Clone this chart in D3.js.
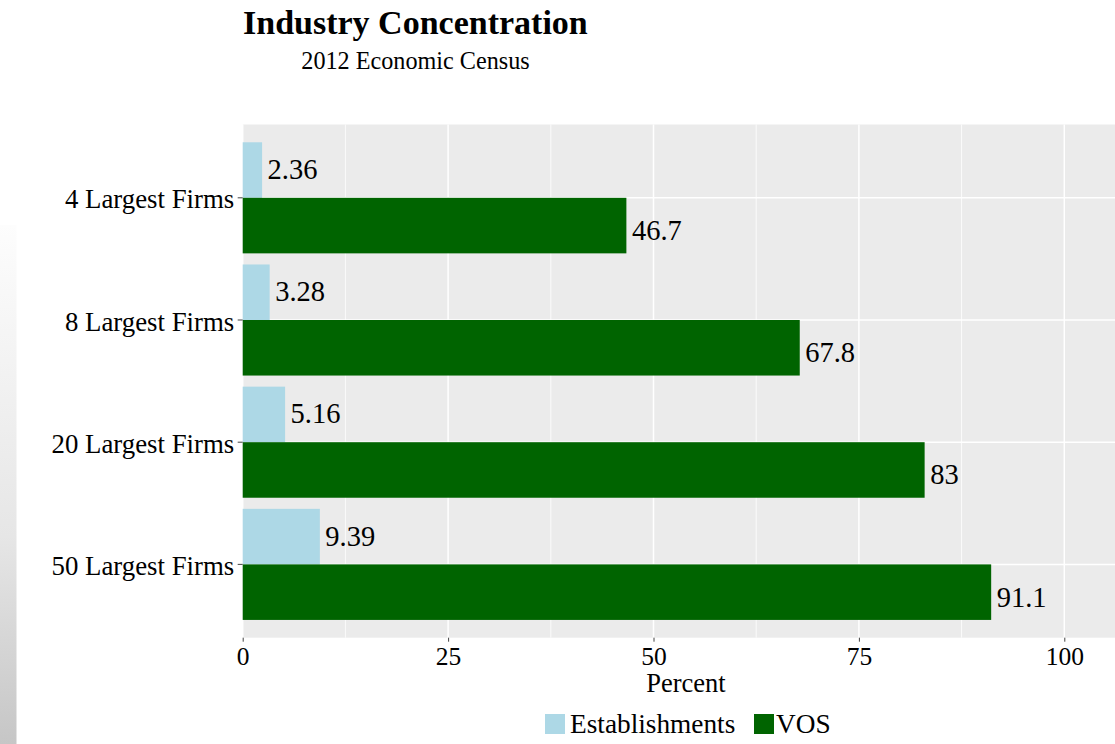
<!DOCTYPE html>
<html>
<head>
<meta charset="utf-8">
<script src="https://cdn.jsdelivr.net/npm/d3@7"></script>
<style>
  html, body { margin: 0; padding: 0; background: #fff; }
  svg { display: block; font-family: "Liberation Serif", "Times New Roman", serif; }
</style>
</head>
<body>
<svg id="chart" width="1115" height="744"></svg>
<script>
const categories = ["4 Largest Firms", "8 Largest Firms", "20 Largest Firms", "50 Largest Firms"];
const seriesNames = ["Establishments", "VOS"];
const establishments = [2.36, 3.28, 5.16, 9.39];
const vos = [46.7, 67.8, 83, 91.1];
const xTicks = [0, 25, 50, 75, 100];
const xMinorTicks = [12.5, 37.5, 62.5, 87.5];
const colors = ["#ADD8E6", "#006400"];
const titleText = "Industry Concentration";
const subtitleText = "2012 Economic Census";
const xTitle = "Percent";

const rows = categories.map((c, i) => ({ cat: c, values: [establishments[i], vos[i]] }));

const svg = d3.select("#chart");
const W = 1115, H = 744;
const panel = { left: 242.7, right: 1115, top: 124.5, bottom: 637.7 };

// decorative strip at left edge
const defs = svg.append("defs");
const grad = defs.append("linearGradient").attr("id", "strip").attr("x1", 0).attr("y1", 0).attr("x2", 0).attr("y2", 1);
grad.append("stop").attr("offset", "0%").attr("stop-color", "#fdfdfd");
grad.append("stop").attr("offset", "60%").attr("stop-color", "#e6e6e6");
grad.append("stop").attr("offset", "100%").attr("stop-color", "#c6c6c6");
svg.append("rect").attr("x", 0).attr("y", 225).attr("width", 16.5).attr("height", H - 225).attr("fill", "url(#strip)");

const x = d3.scaleLinear().domain([0, 100]).range([panel.left, 1064.3]);
const y = d3.scaleBand().domain(categories).range([panel.top, panel.bottom]).paddingInner(0).paddingOuter(0.1);
const ySub = d3.scaleBand().domain(seriesNames).range([0, y.bandwidth()]).paddingInner(0).paddingOuter(0.1);

// panel
svg.append("rect").attr("x", panel.left).attr("y", panel.top)
  .attr("width", panel.right - panel.left).attr("height", panel.bottom - panel.top)
  .attr("fill", "#EBEBEB");

// grid
svg.append("g").selectAll("line").data(xMinorTicks).join("line")
  .attr("x1", d => x(d)).attr("x2", d => x(d)).attr("y1", panel.top).attr("y2", panel.bottom)
  .attr("stroke", "#fff").attr("stroke-width", 0.8);
svg.append("g").selectAll("line").data(xTicks).join("line")
  .attr("x1", d => x(d)).attr("x2", d => x(d)).attr("y1", panel.top).attr("y2", panel.bottom)
  .attr("stroke", "#fff").attr("stroke-width", 1.5);
svg.append("g").selectAll("line").data(categories).join("line")
  .attr("x1", panel.left).attr("x2", panel.right)
  .attr("y1", d => y(d) + y.bandwidth() / 2).attr("y2", d => y(d) + y.bandwidth() / 2)
  .attr("stroke", "#fff").attr("stroke-width", 1.5);

// bars
const groups = svg.append("g").selectAll("g").data(rows).join("g")
  .attr("transform", d => `translate(0,${y(d.cat)})`);
groups.selectAll("rect").data(d => d.values.map((v, j) => ({ s: seriesNames[j], v, j }))).join("rect")
  .attr("x", x(0))
  .attr("y", d => ySub(d.s))
  .attr("width", d => x(d.v) - x(0))
  .attr("height", ySub.bandwidth())
  .attr("fill", d => colors[d.j]);

// value labels
const fmt = v => String(v);
groups.selectAll("text").data(d => d.values.map((v, j) => ({ s: seriesNames[j], v, j }))).join("text")
  .attr("x", d => x(d.v) + 5.5)
  .attr("y", d => ySub(d.s) + ySub.bandwidth() / 2 + (d.j === 0 ? 9 : 14.5))
  .attr("font-size", 28.5)
  .attr("fill", "#000")
  .text(d => fmt(d.v));

// x axis
const xAxis = svg.append("g").attr("transform", `translate(0,${panel.bottom})`)
  .call(d3.axisBottom(x).tickValues(xTicks).tickSize(4).tickPadding(8).tickFormat(d3.format("d")));
xAxis.select(".domain").remove();
xAxis.selectAll(".tick line").attr("stroke", "#444").attr("stroke-width", 1);
xAxis.selectAll(".tick text").attr("font-size", 25.5).attr("fill", "#000")
  .attr("font-family", "Liberation Serif").attr("dy", null).attr("y", 27);

// y axis
const yAxis = svg.append("g").attr("transform", `translate(${panel.left},0)`)
  .call(d3.axisLeft(y).tickSize(5).tickPadding(4));
yAxis.select(".domain").remove();
yAxis.selectAll(".tick line").attr("stroke", "#444").attr("stroke-width", 1);
yAxis.selectAll(".tick text").attr("font-size", 26.8).attr("fill", "#000")
  .attr("font-family", "Liberation Serif").attr("dy", null).attr("y", 10.5).attr("x", -8.5);

// titles
svg.append("text").attr("x", 243).attr("y", 34.3).attr("font-size", 34).attr("font-weight", "bold")
  .attr("fill", "#000").text(titleText);
svg.append("text").attr("x", 415.5).attr("y", 69.3).attr("font-size", 24.2).attr("text-anchor", "middle")
  .attr("fill", "#000").text(subtitleText);
svg.append("text").attr("x", 686).attr("y", 692).attr("font-size", 26.5).attr("text-anchor", "middle")
  .attr("fill", "#000").text(xTitle);

// legend
const legendItems = [{ name: seriesNames[0], x: 545, tx: 570 }, { name: seriesNames[1], x: 754, tx: 776 }];
const lg = svg.append("g");
lg.selectAll("rect").data(legendItems).join("rect")
  .attr("x", d => d.x).attr("y", 714).attr("width", 20).attr("height", 20)
  .attr("fill", (d, i) => colors[i]);
lg.selectAll("text").data(legendItems).join("text")
  .attr("x", d => d.tx).attr("y", 733.3).attr("font-size", 27.3).attr("fill", "#000")
  .text(d => d.name);
</script>
</body>
</html>
